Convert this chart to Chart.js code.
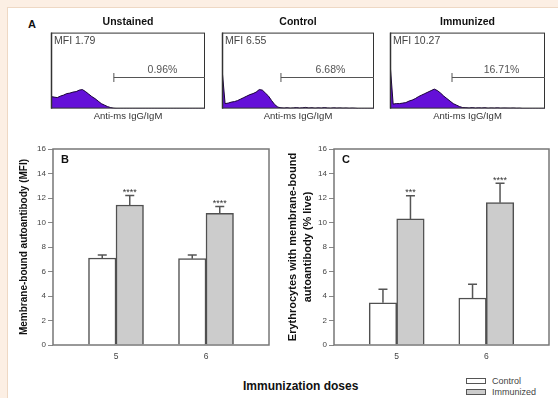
<!DOCTYPE html>
<html>
<head>
<meta charset="utf-8">
<script src="https://cdn.jsdelivr.net/npm/chart.js@4.4.1/dist/chart.umd.min.js"></script>
<style>
  html, body { margin: 0; padding: 0; }
  body { width: 558px; height: 398px; background: #fcefe4; overflow: hidden; position: relative;
         font-family: 'Liberation Sans', Arial, sans-serif; }
  #sheet { position: absolute; left: 7px; top: 7px; width: 560px; height: 400px; background: #fff;
           border-left: 1px solid #eed8c4; border-top: 1px solid #eed8c4; }
  canvas, .lbl, .key { position: absolute; }
  .lbl { white-space: nowrap; color: #111; line-height: 1; }
  .key { width: 20px; height: 6px; box-sizing: border-box; border: 1px solid #555; }
</style>
</head>
<body>
<div id="sheet"></div>

<canvas id="histUnstained" width="158" height="110" style="left:49px;top:12px"></canvas>
<canvas id="histControl" width="156" height="110" style="left:220px;top:12px"></canvas>
<canvas id="histImmunized" width="159" height="110" style="left:388px;top:12px"></canvas>

<canvas id="chartB" width="262" height="226" style="left:12px;top:141px"></canvas>
<canvas id="chartC" width="274" height="226" style="left:280px;top:141px"></canvas>

<div class="lbl" style="left:28px;top:19px;font-size:11px;font-weight:bold">A</div>
<div class="lbl" style="left:243px;top:380px;font-size:12px;font-weight:bold">Immunization doses</div>
<div class="key" style="left:466px;top:378px;background:#fff"></div>
<div class="lbl" style="left:492px;top:377px;font-size:9px;color:#444">Control</div>
<div class="key" style="left:466px;top:389px;background:#ccc"></div>
<div class="lbl" style="left:492px;top:388px;font-size:9px;color:#444">Immunized</div>

<script>
/* ===============================
   DATA
================================= */
// panel A: flow histograms, counts per channel bin
const unstainedCounts = [12, 11.5, 11, 12.5, 13.5, 15, 15.5, 16.5, 17, 18.5, 19, 17, 14.5, 12, 10, 7.5, 5, 3.5, 2, 1,
  0.3, 0, 0, 0, 0, 0, 0, 0, 0, 0, 0, 0, 0, 0, 0, 0, 0, 0, 0, 0, 0, 0, 0, 0, 0, 0, 0, 0, 0, 0];
const controlCounts = [40, 5, 5.5, 6.5, 7, 8, 9.5, 11, 12.5, 14, 15, 16.5, 19, 18.5, 15.5, 12.5, 8, 4, 1.5, 0.8,
  0.5, 0.9, 0.4, 0.7, 1, 0.5, 0.8, 1.2, 0.6, 0.9, 0.4, 0.8, 0.5, 1, 0.6, 0.4, 0.8, 0.5, 0.7, 0.4, 0.6, 0.3, 0.5, 0.3, 0, 0, 0, 0, 0, 0];
const immunizedCounts = [46, 4.5, 5, 5, 5.5, 6, 7.5, 8.5, 10, 12, 13.5, 15, 16.5, 18, 19.5, 18, 15.5, 12.5, 10, 7.5,
  5, 3.5, 2, 1, 0.9, 0.6, 1, 0.5, 0.8, 0.6, 0.9, 0.4, 0.7, 0.5, 0.8, 0.4, 0.6, 0.5, 0.4, 0.6, 0.3, 0.4, 0, 0, 0, 0, 0, 0, 0, 0];
const histTitles = ['Unstained', 'Control', 'Immunized'];
const mfiValues = ['1.79', '6.55', '10.27'];
const gatePercents = ['0.96%', '6.68%', '16.71%'];
const gateStartBins = [20, 19, 19.6];
const gateLevel = 32;

// panels B and C
const doses = [5, 6];
const mfiControl = [7.1, 7.05];
const mfiControlErr = [0.25, 0.3];
const mfiImmunized = [11.43, 10.75];
const mfiImmunizedErr = [0.78, 0.56];
const mfiStars = ['****', '****'];

const pctControl = [3.45, 3.84];
const pctControlErr = [1.1, 1.12];
const pctImmunized = [10.29, 11.62];
const pctImmunizedErr = [1.9, 1.58];
const pctStars = ['***', '****'];

const yTicksMax = 16;

Chart.defaults.font.family = "'Liberation Sans', Arial, sans-serif";

/* ===============================
   HISTOGRAM EXTRAS (frame, MFI, gate)
================================= */
const histNotes = {
    id: 'histNotes',
    afterDatasetsDraw(chart, args, opts) {
        const { ctx, chartArea: a, scales: { x, y } } = chart;
        ctx.save();
        ctx.strokeStyle = '#333';
        ctx.lineWidth = 1;
        ctx.strokeRect(a.left + 0.5, a.top + 0.5, a.width - 1, a.height - 1);
        ctx.lineWidth = 1.5;
        ctx.beginPath();
        ctx.moveTo(a.left + 0.5, a.top);
        ctx.lineTo(a.left + 0.5, a.bottom);
        ctx.stroke();

        ctx.fillStyle = '#444';
        ctx.font = "10.5px 'Liberation Sans', Arial, sans-serif";
        ctx.textBaseline = 'middle';
        ctx.fillText('MFI ' + opts.mfi, a.left + 3, a.top + 9);

        const gx = x.getPixelForValue(opts.gate);
        const gy = Math.round(y.getPixelForValue(gateLevel)) + 0.5;
        ctx.strokeStyle = '#555';
        ctx.lineWidth = 1;
        ctx.beginPath();
        ctx.moveTo(gx, gy);
        ctx.lineTo(a.right, gy);
        ctx.moveTo(gx, gy - 4.5);
        ctx.lineTo(gx, gy + 4.5);
        ctx.stroke();
        ctx.textAlign = 'center';
        ctx.fillStyle = '#555';
        ctx.fillText(opts.pct, (gx + a.right) / 2 + 3, gy - 7.5);
        ctx.restore();
    }
};

function histChart(id, title, counts, mfi, pct, gate) {
    return new Chart(document.getElementById(id), {
        type: 'line',
        data: {
            labels: counts.map((_, i) => i),
            datasets: [{
                data: counts,
                fill: 'origin',
                backgroundColor: '#6410d8',
                borderColor: '#1c0638',
                borderWidth: 1,
                pointRadius: 0,
                tension: 0
            }]
        },
        options: {
            responsive: false,
            animation: false,
            devicePixelRatio: 1,
            layout: { padding: { left: 2, right: 2, top: 0, bottom: 0 } },
            plugins: {
                legend: { display: false },
                tooltip: { enabled: false },
                title: {
                    display: true, text: title, color: '#111',
                    font: { size: 10.5, weight: 'bold' },
                    padding: { top: 4, bottom: 4 }
                },
                histNotes: { mfi, pct, gate }
            },
            scales: {
                x: {
                    type: 'linear', min: 0, max: counts.length - 1,
                    ticks: { display: false },
                    grid: { display: false, drawTicks: false },
                    border: { display: false },
                    title: {
                        display: true, text: 'Anti-ms IgG/IgM', color: '#333',
                        font: { size: 9.5 }, padding: { top: 2, bottom: 0 }
                    }
                },
                y: { display: false, min: 0, max: 76 }
            }
        },
        plugins: [histNotes]
    });
}

/* ===============================
   BAR EXTRAS (error bars, stars, frame, letter)
================================= */
const barNotes = {
    id: 'barNotes',
    afterDatasetsDraw(chart, args, opts) {
        const { ctx, chartArea: a, scales: { y } } = chart;
        ctx.save();
        chart.data.datasets.forEach((ds, di) => {
            const meta = chart.getDatasetMeta(di);
            meta.data.forEach((bar, i) => {
                const top = y.getPixelForValue(ds.data[i].y + opts.errors[di][i]);
                ctx.strokeStyle = '#555';
                ctx.lineWidth = 1.5;
                ctx.beginPath();
                ctx.moveTo(bar.x, bar.y);
                ctx.lineTo(bar.x, top);
                ctx.moveTo(bar.x - 4.5, top);
                ctx.lineTo(bar.x + 4.5, top);
                ctx.stroke();
                if (di === 1) {
                    ctx.fillStyle = '#333';
                    ctx.font = "9px 'Liberation Sans', Arial, sans-serif";
                    ctx.textAlign = 'center';
                    ctx.textBaseline = 'alphabetic';
                    ctx.fillText(opts.stars[i], bar.x, top - 0.5);
                }
            });
        });
        ctx.strokeStyle = '#777';
        ctx.lineWidth = 1.5;
        ctx.strokeRect(a.left, a.top, a.width, a.height);

        ctx.fillStyle = '#111';
        ctx.font = "bold 11px 'Liberation Sans', Arial, sans-serif";
        ctx.textAlign = 'left';
        ctx.textBaseline = 'middle';
        ctx.fillText(opts.letter, a.left + 8, a.top + 11);
        ctx.restore();
    }
};

function barChart(id, ctrl, ctrlErr, imm, immErr, stars, letter, title, titleSize, axisWidth) {
    return new Chart(document.getElementById(id), {
        type: 'bar',
        data: {
            datasets: [
                {
                    label: 'Control',
                    data: doses.map((d, i) => ({ x: d, y: ctrl[i] })),
                    backgroundColor: '#ffffff',
                    borderColor: '#505050',
                    borderWidth: 1.5,
                    barThickness: 27.5
                },
                {
                    label: 'Immunized',
                    data: doses.map((d, i) => ({ x: d, y: imm[i] })),
                    backgroundColor: '#cccccc',
                    borderColor: '#505050',
                    borderWidth: 1.5,
                    barThickness: 27.5
                }
            ]
        },
        options: {
            responsive: false,
            animation: false,
            devicePixelRatio: 1,
            layout: { padding: { top: 8, right: 5, left: 0, bottom: 0 } },
            plugins: {
                legend: { display: false },
                tooltip: { enabled: false },
                barNotes: { errors: [ctrlErr, immErr], stars, letter }
            },
            scales: {
                x: {
                    type: 'linear', min: 4.3, max: 6.7, offset: false,
                    grid: { display: false, drawTicks: false, offset: false },
                    border: { display: false },
                    afterBuildTicks: s => { s.ticks = doses.map(v => ({ value: v })); },
                    afterFit: s => { s.height = 22; },
                    ticks: { color: '#444', font: { size: 8.5 }, padding: 7 }
                },
                y: {
                    min: 0, max: yTicksMax,
                    ticks: { stepSize: 2, color: '#444', font: { size: 8 }, padding: 2 },
                    grid: { drawOnChartArea: false, tickLength: 5, color: '#888' },
                    border: { display: false },
                    afterFit: s => { s.width = axisWidth; },
                    title: {
                        display: true, text: title, color: '#111',
                        font: { size: titleSize, weight: 'bold', lineHeight: 1.4 },
                        padding: { top: 5, bottom: 0 }
                    }
                }
            }
        },
        plugins: [barNotes]
    });
}

/* ===============================
   INIT
================================= */
histChart('histUnstained', histTitles[0], unstainedCounts, mfiValues[0], gatePercents[0], gateStartBins[0]);
histChart('histControl', histTitles[1], controlCounts, mfiValues[1], gatePercents[1], gateStartBins[1]);
histChart('histImmunized', histTitles[2], immunizedCounts, mfiValues[2], gatePercents[2], gateStartBins[2]);

barChart('chartB', mfiControl, mfiControlErr, mfiImmunized, mfiImmunizedErr, mfiStars, 'B',
    'Membrane-bound autoantibody (MFI)', 10, 41);
barChart('chartC', pctControl, pctControlErr, pctImmunized, pctImmunizedErr, pctStars, 'C',
    ['Erythrocytes with membrane-bound', 'autoantibody (% live)'], 11, 54);
</script>
</body>
</html>
